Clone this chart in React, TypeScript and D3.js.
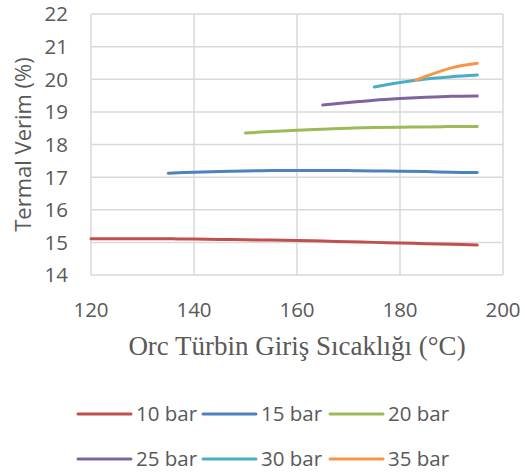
import React from "react";
import * as d3 from "d3";

const seriesNames = ["10 bar", "15 bar", "20 bar", "25 bar", "30 bar", "35 bar"];
const seriesColors = ["#C0504D", "#4F81BD", "#9BBB59", "#8064A2", "#4BACC6", "#F79646"];

const x10 = [120, 125, 130, 135, 140, 145, 150, 155, 160, 165, 170, 175, 180, 185, 190, 195];
const y10 = [15.11, 15.11, 15.11, 15.11, 15.1, 15.09, 15.08, 15.07, 15.06, 15.04, 15.02, 15.0, 14.98, 14.96, 14.94, 14.92];
const x15 = [135, 140, 145, 150, 155, 160, 165, 170, 175, 180, 185, 190, 195];
const y15 = [17.12, 17.15, 17.17, 17.19, 17.2, 17.2, 17.2, 17.2, 17.19, 17.18, 17.17, 17.15, 17.14];
const x20 = [150, 155, 160, 165, 170, 175, 180, 185, 190, 195];
const y20 = [18.35, 18.4, 18.44, 18.47, 18.5, 18.52, 18.53, 18.54, 18.55, 18.55];
const x25 = [165, 170, 175, 180, 185, 190, 195];
const y25 = [19.21, 19.29, 19.36, 19.41, 19.45, 19.48, 19.49];
const x30 = [175, 180, 185, 190, 195];
const y30 = [19.76, 19.9, 20.01, 20.08, 20.13];
const x35 = [183, 185, 190, 195];
const y35 = [19.97, 20.09, 20.35, 20.49];

const xTicks = [120, 140, 160, 180, 200];
const yTicks = [14, 15, 16, 17, 18, 19, 20, 21, 22];

const xsList = [x10, x15, x20, x25, x30, x35];
const ysList = [y10, y15, y20, y25, y30, y35];

const W = 525, H = 476;
const L = 91, R = 503, T = 14, B = 275;
const textColor = "#595959";
const sans = "'Open Sans', sans-serif";

export default function App() {
  const x = d3.scaleLinear().domain([120, 200]).range([L, R]);
  const y = d3.scaleLinear().domain([14, 22]).range([B, T]);
  const line = d3
    .line<[number, number]>()
    .x((d) => x(d[0]))
    .y((d) => y(d[1]))
    .curve(d3.curveCatmullRom.alpha(0.5));

  const legendCols = [78, 203, 330];
  const legendRows = [414, 459];

  return (
    <svg
      width={W}
      height={H}
      style={{ position: "absolute", left: 0, top: 0, background: "#fff" }}
    >
      {yTicks.map((t) => (
        <line key={"gy" + t} x1={L} x2={R} y1={y(t)} y2={y(t)} stroke="#d9d9d9" strokeWidth={1.5} />
      ))}
      {xTicks.map((t) => (
        <line key={"gx" + t} x1={x(t)} x2={x(t)} y1={T} y2={B} stroke="#d9d9d9" strokeWidth={1.5} />
      ))}
      {yTicks.map((t) => (
        <text
          key={"ty" + t}
          x={68}
          y={y(t)}
          dy="0.36em"
          textAnchor="end"
          fontFamily={sans}
          fontSize={20.5}
          fill={textColor}
        >
          {t}
        </text>
      ))}
      {xTicks.map((t) => (
        <text
          key={"tx" + t}
          x={x(t)}
          y={310}
          dy="0.36em"
          textAnchor="middle"
          fontFamily={sans}
          fontSize={20.5}
          fill={textColor}
        >
          {t}
        </text>
      ))}
      <text
        transform={`translate(23,${(T + B) / 2}) rotate(-90)`}
        dy="0.36em"
        textAnchor="middle"
        fontFamily={sans}
        fontSize={22}
        fill={textColor}
      >
        Termal Verim (%)
      </text>
      <text
        x={(L + R) / 2}
        y={355}
        textAnchor="middle"
        fontFamily="'Liberation Serif', 'Times New Roman', serif"
        fontSize={27}
        fill={textColor}
      >
        Orc Türbin Giriş Sıcaklığı (°C)
      </text>
      {seriesNames.map((name, i) => {
        const pts: [number, number][] = xsList[i].map((xv, j) => [xv, ysList[i][j]]);
        return (
          <path
            key={"s" + name}
            d={line(pts) || ""}
            fill="none"
            stroke={seriesColors[i]}
            strokeWidth={3}
            strokeLinecap="round"
          />
        );
      })}
      {seriesNames.map((name, i) => {
        const cx = legendCols[i % 3];
        const cy = legendRows[Math.floor(i / 3)];
        return (
          <g key={"lg" + name}>
            <line x1={cx} x2={cx + 53} y1={cy} y2={cy} stroke={seriesColors[i]} strokeWidth={3} strokeLinecap="round" />
            <text x={cx + 58} y={cy} dy="0.36em" fontFamily={sans} fontSize={20.5} fill={textColor}>
              {name}
            </text>
          </g>
        );
      })}
    </svg>
  );
}
